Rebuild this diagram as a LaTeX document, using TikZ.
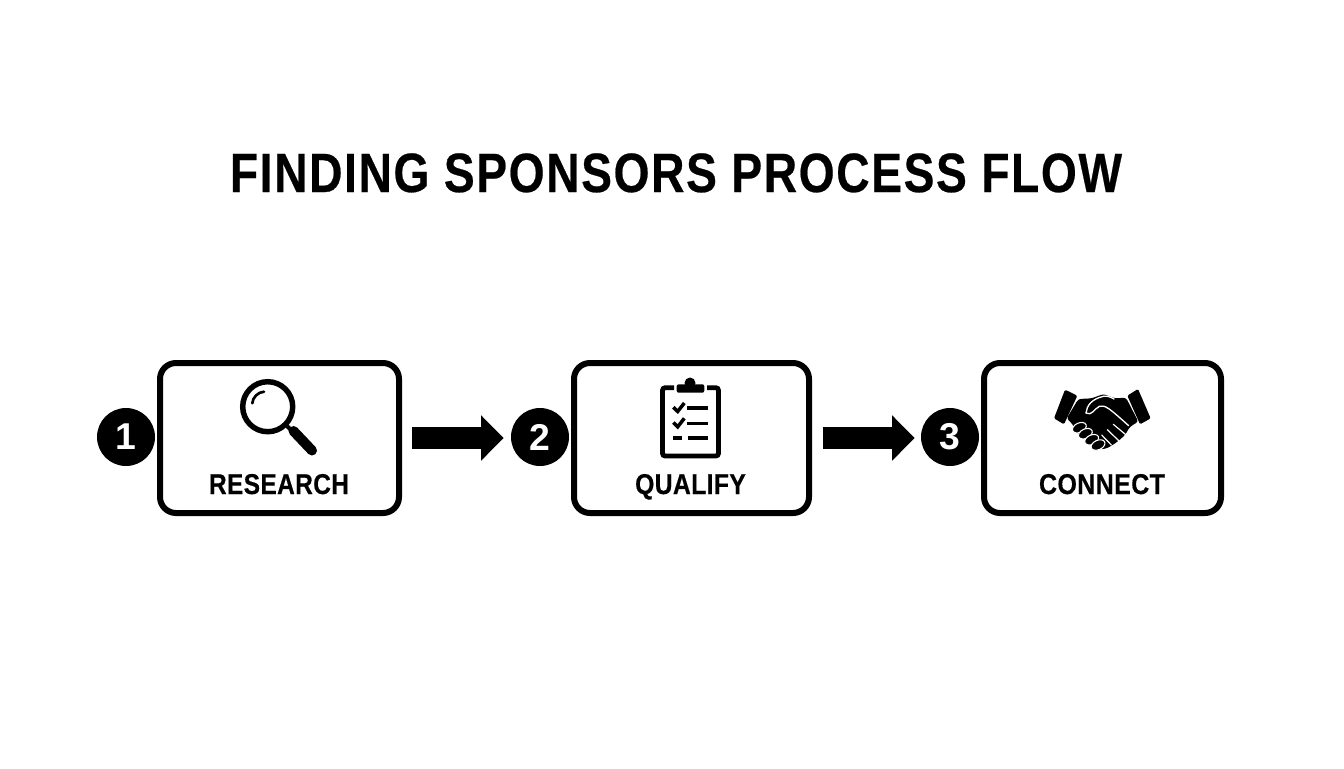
\documentclass[tikz,border=0pt]{standalone}
\usepackage{fontspec}
\setmainfont{Liberation Sans}
\usetikzlibrary{arrows.meta}
\newcommand{\fitlabel}[4]{\resizebox{#1}{#2}{\bfseries\addfontfeatures{LetterSpace=#3,FakeBold=0.45}#4}}
\tikzset{
  x=.75pt,y=-.75pt,
  stepbox/.style={draw=black,fill=white,line width=4.5pt,rounded corners=12pt,minimum height=112.5pt,inner sep=0pt},
  numdot/.style={circle,fill=black,text=white,minimum size=43.5pt,inner sep=0pt,font=\fontsize{28}{28}\selectfont\bfseries},
  flowarrow/.style={line width=16.5pt,-{Triangle[length=17pt,width=33pt]}},
  labeltext/.style={anchor=base,inner sep=0pt,text=black},
}
\begin{document}
\begin{tikzpicture}
\useasboundingbox[fill=white] (0,0) rectangle (1344,768);
\node[labeltext] (title) at (676,192) {\fitlabel{669pt}{29pt}{3.5}{FINDING SPONSORS PROCESS FLOW}};
\node[stepbox,minimum width=179.25pt] (box1) at (279.5,438) {};
\node[stepbox,minimum width=176.25pt] (box2) at (691.5,438) {};
\node[stepbox,minimum width=177.75pt] (box3) at (1102.5,438) {};
\node[numdot] (c1) at (126,437) {1};
\node[numdot] (c2) at (540,437) {2};
\node[numdot] (c3) at (950,437) {3};
\draw[flowarrow,shorten <=7.5pt,shorten >=5.25pt] (box1.east) -- ([yshift=-.75pt]c2.west);
\draw[flowarrow,shorten <=8pt,shorten >=4.5pt] (box2.east) -- ([yshift=-.75pt]c3.west);
\node[labeltext] (l1) at (279,494) {\fitlabel{105pt}{15pt}{1.5}{RESEARCH}};
\node[labeltext] (l2) at (690.5,494) {\fitlabel{83pt}{15pt}{1.5}{QUALIFY}};
\node[labeltext] (l3) at (1102,494) {\fitlabel{94.5pt}{15pt}{1.5}{CONNECT}};
% magnifier
\draw[line width=4.1pt] (267.7,406.7) circle (25);
\draw[line width=2pt,line cap=round] (252.3,403.3) .. controls (252.5,397.5) and (258,392) .. (264,391.7);
\draw[line width=3pt] (285,424) -- (295,434);
\draw[line width=7.5pt,line cap=round] (293.5,431) -- (312,450.5);
% clipboard
\draw[line width=3.6pt,rounded corners=2pt] (674,387.7) -- (662.5,387.7) -- (662.5,456) -- (718.5,456) -- (718.5,387.7) -- (707,387.7);
\fill[rounded corners=1.5pt] (676.7,384.3) rectangle (704.3,392.7);
\fill (690,383) circle (5.5);
\foreach \yy in {0,15.3}{
  \draw[line width=2.6pt] (673.3,407.2+\yy) -- (677.7,411.5+\yy) -- (684.3,403+\yy);
  \draw[line width=2.8pt] (687.3,408.3+\yy) -- (708.3,408.3+\yy);
}
\draw[line width=2.8pt] (672.7,438.3) -- (682.3,438.3);
\draw[line width=2.8pt] (687.7,438.3) -- (708.3,438.3);
% handshake
\begin{scope}[shift={(1050,385)},x=.25pt,y=-.25pt]
\fill[rounded corners=1pt] (45,14) -- (82,32) -- (42,118) -- (12,100) -- cycle;
\fill[rounded corners=1pt] (264,12) -- (232,32) -- (270,118) -- (302,100) -- cycle;
\fill[rounded corners=2pt] (85,42) -- (125,40) -- (160,27) -- (195,40) -- (228,38) -- (265,110) -- (240,125) -- (225,150) -- (205,168) -- (185,182) -- (165,192) -- (145,192) -- (125,175) -- (100,160) -- (78,140) -- (68,118) -- (50,100) -- cycle;
\draw[white,line width=1pt,line cap=round,line join=round] (108,84) .. controls (110,62) and (125,42) .. (160,34) .. controls (172,32) and (182,36) .. (192,42);
\draw[white,line width=1pt,line cap=round,line join=round] (108,84) .. controls (125,94) and (132,72) .. (148,64) .. controls (165,58) and (180,72) .. (236,122);
\draw[white,line width=.9pt,line cap=round] (190,118) -- (226,148);
\draw[white,line width=.9pt,line cap=round] (172,134) -- (205,166);
\draw[white,line width=.9pt,line cap=round] (155,150) -- (184,180);
\foreach \cx/\cy in {88/128,106/146,125/164,144/180}{
  \draw[white,line width=.8pt,fill=black,rotate around={25:(\cx,\cy)}] (\cx,\cy) ellipse (22 and 14);
}
\end{scope}
\end{tikzpicture}
\end{document}
